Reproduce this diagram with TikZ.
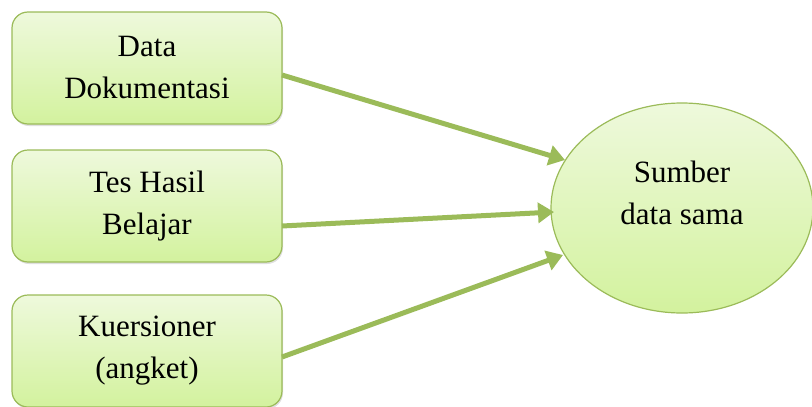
\documentclass[tikz,border=0pt]{standalone}
\usepackage{fontspec}
\setmainfont{Liberation Serif}
\usetikzlibrary{arrows.meta,shapes.geometric,shadows}
\definecolor{edge}{HTML}{9BBB59}
\definecolor{topc}{HTML}{EEF9DC}
\definecolor{botc}{HTML}{D3F29E}
\tikzset{
  box/.style={draw=edge, line width=1.2pt, rounded corners=16pt, top color=topc, bottom color=botc,
    minimum width=270pt, minimum height=112pt, align=center,
    font=\fontsize{31}{42}\selectfont, drop shadow={shadow xshift=1pt, shadow yshift=-2pt, opacity=0.25}},
  oval/.style={draw=edge, line width=1.2pt, ellipse, top color=topc, bottom color=botc,
    minimum width=262pt, minimum height=210pt, inner sep=0pt, align=center,
    font=\fontsize{31}{42}\selectfont},
  conn/.style={draw=edge, line width=5pt, -{Triangle[length=16pt,width=20pt]}}
}
\begin{document}
\begin{tikzpicture}[x=1pt,y=-1pt]
\useasboundingbox (0,0) rectangle (812,407);
\node[box] (a) at (147,68) {Data\\Dokumentasi};
\node[box] (b) at (147,206) {Tes Hasil\\Belajar};
\node[box] (c) at (147,351) {Kuersioner\\(angket)};
\node[oval] (d) at (682,208) {};
\node[font=\fontsize{31}{42}\selectfont, align=center] (dt) at (682,193) {Sumber\\data sama};
\coordinate (a1) at (282,75);
\coordinate (b1) at (282,226);
\coordinate (c1) at (282,357);
\draw[conn] (a1) -- (565,160);
\draw[conn] (b1) -- (554,212);
\draw[conn] (c1) -- (563,255);
\end{tikzpicture}
\end{document}
